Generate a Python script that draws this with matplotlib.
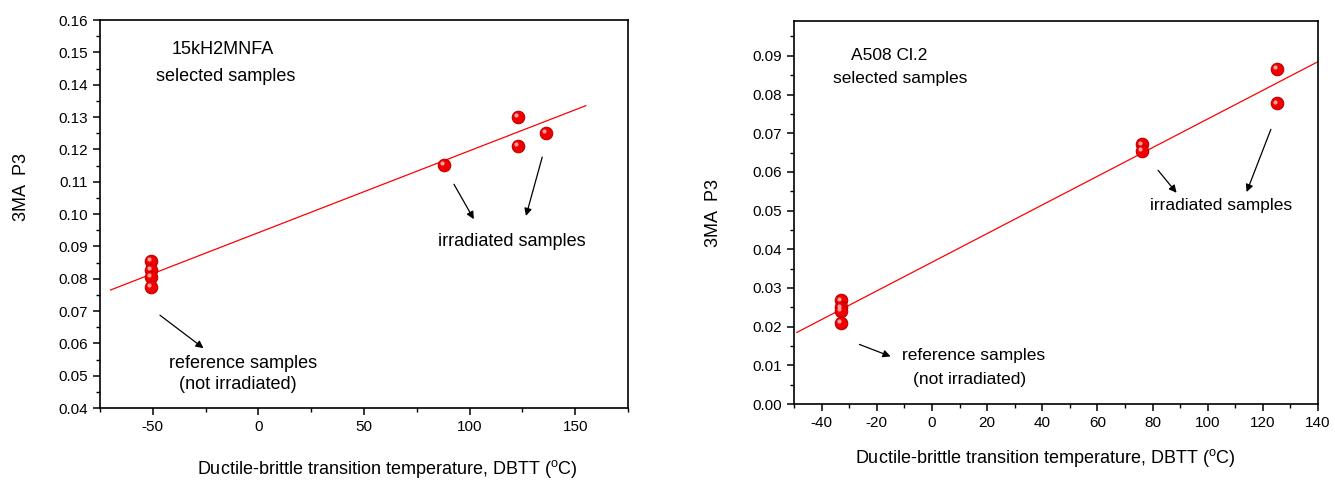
# coding:utf-8
import matplotlib
matplotlib.use("Agg")
import matplotlib.pyplot as plt
from matplotlib.ticker import MultipleLocator, FormatStrFormatter
from matplotlib.transforms import offset_copy

plt.rcParams['font.family'] = ['Liberation Sans', 'DejaVu Sans']
plt.rcParams['mathtext.fontset'] = 'custom'
plt.rcParams['mathtext.rm'] = 'Liberation Sans'
plt.rcParams['axes.unicode_minus'] = False

# 15kH2MNFA
left_dbtt = [-51, -51, -51, -51, 88, 123, 123, 136]
left_p3 = [0.0855, 0.0827, 0.0806, 0.0775, 0.1152, 0.1301, 0.1210, 0.1251]
left_fit_x = [-70, 155]
left_fit_y = [0.0765, 0.1335]

# A508 Cl.2
right_dbtt = [-33, -33, -33, -33, 76, 76, 125, 125]
right_p3 = [0.0268, 0.0250, 0.0240, 0.0209, 0.0671, 0.0655, 0.0866, 0.0777]
right_fit_x = [-49, 140]
right_fit_y = [0.0185, 0.0885]

XLABEL = r'Ductile-brittle transition temperature, DBTT ($\mathregular{^o}$C)'
YLABEL = '3MA  P3'


def draw_spheres(fig, ax, x, y):
    """
    红色小球 + 高光
    """
    ax.plot(x, y, 'o', color='#f00000', mec='#c00000', mew=0.8, ms=9, zorder=3)
    hl = offset_copy(ax.transData, fig=fig, x=-1.8, y=1.8, units='dots')
    ax.plot(x, y, 'o', color='#ffb0b0', mec='none', ms=3, alpha=0.9,
            transform=hl, zorder=4)


def style_axes(ax, xmaj, xmin, ymaj, ymin):
    for s in ax.spines.values():
        s.set_linewidth(1.2)
    ax.xaxis.set_major_locator(MultipleLocator(xmaj))
    ax.xaxis.set_minor_locator(MultipleLocator(xmin))
    ax.yaxis.set_major_locator(MultipleLocator(ymaj))
    ax.yaxis.set_minor_locator(MultipleLocator(ymin))
    ax.yaxis.set_major_formatter(FormatStrFormatter('%.2f'))
    ax.tick_params(which='major', direction='out', length=5, width=1.1,
                   labelsize=11, top=False, right=False)
    ax.tick_params(which='minor', direction='out', length=3, width=1.0,
                   top=False, right=False)


def arrow(ax, start, end):
    ax.annotate('', xy=end, xytext=start,
                arrowprops=dict(arrowstyle='-|>', color='k', lw=0.9,
                                mutation_scale=11, shrinkA=0, shrinkB=0))


fig = plt.figure(figsize=(13.35, 4.8), dpi=100)

# 左图
ax1 = fig.add_axes([0.0749, 0.15, 0.3955, 0.8083])
ax1.plot(left_fit_x, left_fit_y, color='red', lw=0.9)
draw_spheres(fig, ax1, left_dbtt, left_p3)
ax1.set_xlim(-75, 175)
ax1.set_ylim(0.04, 0.16)
style_axes(ax1, 50, 25, 0.01, 0.005)
ax1.text(-16.8, 0.1509, '15kH2MNFA', fontsize=13, ha='center', va='center')
ax1.text(-15.3, 0.1426, 'selected samples', fontsize=13, ha='center', va='center')
ax1.text(120, 0.0916, 'irradiated samples', fontsize=13, ha='center', va='center')
ax1.text(-7.2, 0.0538, 'reference samples', fontsize=13, ha='center', va='center')
ax1.text(-9.8, 0.0474, '(not irradiated)', fontsize=13, ha='center', va='center')
arrow(ax1, (92.6, 0.1092), (102, 0.0984))
arrow(ax1, (134.4, 0.1176), (126.7, 0.0994))
arrow(ax1, (-46.6, 0.0687), (-26, 0.0585))
ax1.set_xlabel(XLABEL, fontsize=13)
ax1.set_ylabel(YLABEL, fontsize=13)
ax1.xaxis.set_label_coords(0.545, -0.128)
ax1.yaxis.set_label_coords(-0.133, 0.57)

# 右图
ax2 = fig.add_axes([0.5948, 0.1583, 0.3925, 0.7979])
ax2.plot(right_fit_x, right_fit_y, color='red', lw=0.9)
draw_spheres(fig, ax2, right_dbtt, right_p3)
ax2.set_xlim(-50, 140)
ax2.set_ylim(0.0, 0.099)
style_axes(ax2, 20, 10, 0.01, 0.005)
ax2.text(-15.6, 0.0902, 'A508 Cl.2', fontsize=12.5, ha='center', va='center')
ax2.text(-11.6, 0.0842, 'selected samples', fontsize=12.5, ha='center', va='center')
ax2.text(105, 0.0512, 'irradiated samples', fontsize=12.5, ha='center', va='center')
ax2.text(15, 0.0126, 'reference samples', fontsize=12.5, ha='center', va='center')
ax2.text(13.5, 0.0064, '(not irradiated)', fontsize=12.5, ha='center', va='center')
arrow(ax2, (82.0, 0.0604), (88.7, 0.0546))
arrow(ax2, (122.9, 0.0710), (114.1, 0.0548))
arrow(ax2, (-26.3, 0.0154), (-15.0, 0.0123))
ax2.set_xlabel(XLABEL, fontsize=13)
ax2.set_ylabel(YLABEL, fontsize=13)
ax2.xaxis.set_label_coords(0.48, -0.112)
ax2.yaxis.set_label_coords(-0.137, 0.5)

plt.savefig('out.png', dpi=100)
